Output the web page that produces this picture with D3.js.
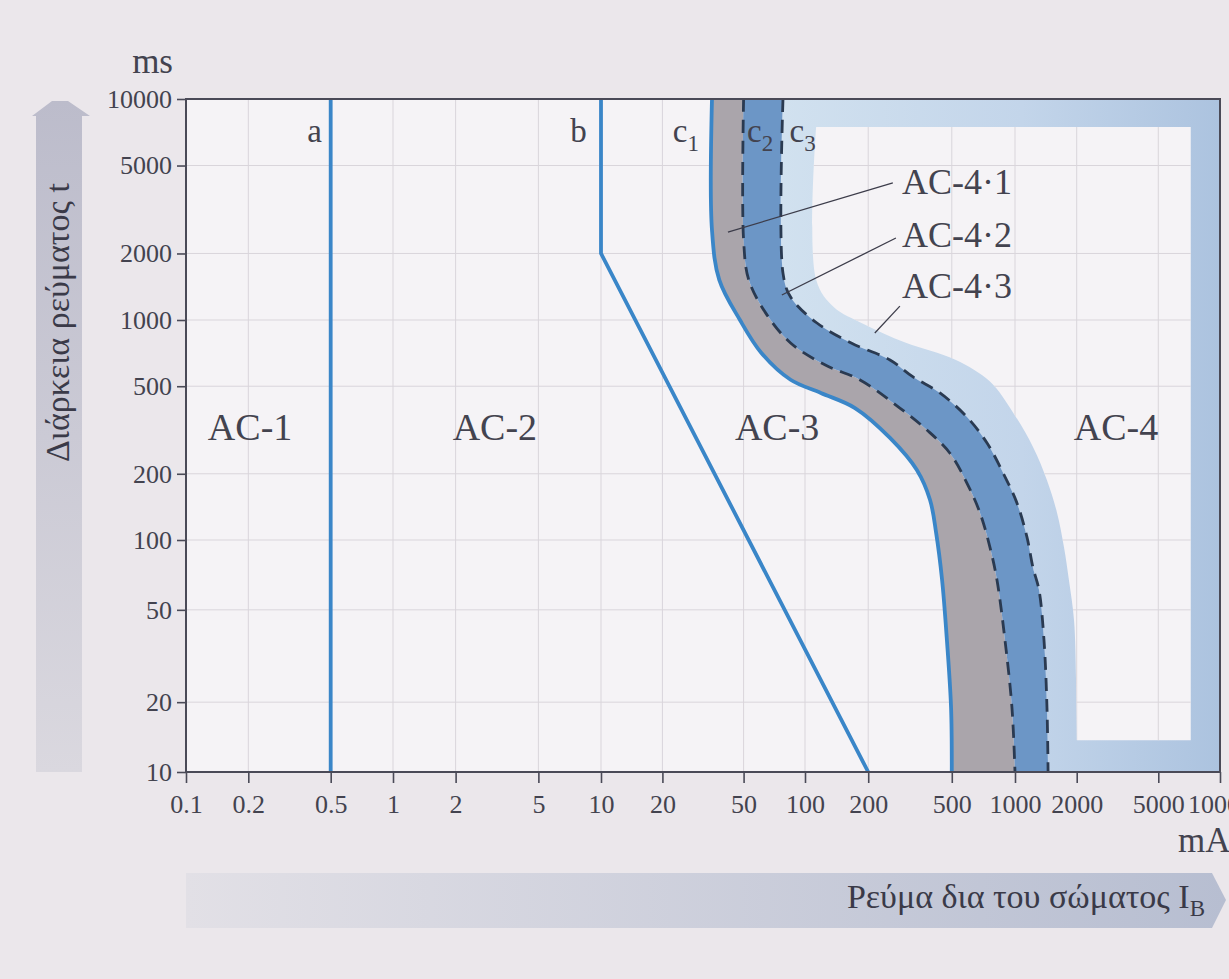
<!DOCTYPE html>
<html>
<head>
<meta charset="utf-8">
<script src="https://cdn.jsdelivr.net/npm/d3@7"></script>
<style>
  html, body { margin: 0; padding: 0; background: #ebe7eb; }
  svg { display: block; }
  svg text { font-family: "Liberation Serif", "Times New Roman", "DejaVu Serif", serif; }
</style>
</head>
<body>
<svg id="chart" width="1229" height="979"></svg>
<script>
// ---- axis ticks -------------------------------------------------------
const currentTicks = [0.1, 0.2, 0.5, 1, 2, 5, 10, 20, 50, 100, 200, 500, 1000, 2000, 5000, 10000];
const currentTickLabels = ["0.1", "0.2", "0.5", "1", "2", "5", "10", "20", "50", "100", "200", "500", "1000", "2000", "5000", "10000"];
const durationTicks = [10, 20, 50, 100, 200, 500, 1000, 2000, 5000, 10000];
const durationTickLabels = ["10", "20", "50", "100", "200", "500", "1000", "2000", "5000", "10000"];

// ---- boundary curves, [current mA, duration ms] ------------------------
const curveA = [[0.5, 10], [0.5, 10000]];
const curveB = [[10, 10000], [10, 2000], [200, 10]];
const curveC1 = [[35, 10000], [35, 2550], [38, 1520], [48, 1000], [61, 710], [85, 535], [119, 466],
  [173, 398], [254, 291], [341, 208], [394, 152], [421, 108], [449, 68], [474, 37], [496, 19], [500, 10]];
const curveC2 = [[50, 10000], [50, 2300], [53, 1520], [64, 1080], [85, 786], [125, 624], [183, 534],
  [283, 398], [381, 316], [490, 248], [591, 181], [681, 133], [760, 93], [821, 67], [896, 37], [967, 19], [1000, 10]];
const curveC3 = [[78, 10000], [78, 1630], [85, 1270], [114, 969], [166, 786], [254, 658], [327, 551],
  [439, 466], [591, 362], [736, 276], [877, 202], [1023, 147], [1144, 103], [1224, 76], [1309, 61],
  [1385, 37], [1432, 19], [1450, 10]];

// outer edge of the AC-4.3 band and the inner edge of the AC-4 frame
const band43Edge = [[113, 7470], [113, 1520], [137, 1145], [190, 960], [300, 790], [520, 660], [760, 525],
  [978, 380], [1224, 265], [1432, 187], [1603, 133], [1734, 93], [1833, 67], [1941, 45], [1985, 25], [2005, 13.7]];
const frameInnerRight = [7200];
const frameInnerBottom = [13.7];
const frameInnerTop = [7470];

// ---- labels -------------------------------------------------------------
const zoneNames = ["AC-1", "AC-2", "AC-3", "AC-4"];
const zoneAt = [[0.204, 285], [3.09, 285], [73, 285], [3110, 285]];
const curveNames = ["a", "b", "c", "c", "c"];
const curveSubs = ["", "", "1", "2", "3"];
const curveNameAt = [[0.418, 6400], [7.8, 6400], [22.5, 6400], [52, 6400], [84, 6400]];
const subZoneNames = ["AC-4·1", "AC-4·2", "AC-4·3"];
const subZoneAt = [[290, 3700], [290, 2150], [290, 1255]];
const leaderFrom = [[262, 4170], [271, 2350], [283, 1156]];
const leaderTo = [[41.9, 2500], [77, 1297], [215, 873]];

// ---- layout -------------------------------------------------------------
const W = 1229, H = 979;
const plot = { left: 186, right: 1220, top: 99, bottom: 772 };
const ink = "#43434f";
const serif = "'Liberation Serif', 'Times New Roman', 'DejaVu Serif', serif";

const x = d3.scaleLog()
  .domain([0.1, 1, 10, 100, 1000, 10000])
  .range([186, 393, 601, 805, 1015, 1220]);
const y = d3.scaleLog()
  .domain([10, 100, 1000, 10000])
  .range([772, 540, 320, 99]);

const svg = d3.select("#chart").attr("font-family", serif);
const defs = svg.append("defs");

const g1 = defs.append("linearGradient").attr("id", "lightBand")
  .attr("gradientUnits", "userSpaceOnUse").attr("x1", 780).attr("x2", 1220).attr("y1", 0).attr("y2", 0);
g1.append("stop").attr("offset", 0).attr("stop-color", "#d1e1ef");
g1.append("stop").attr("offset", 0.55).attr("stop-color", "#c3d5ea");
g1.append("stop").attr("offset", 1).attr("stop-color", "#acc3df");

const g2 = defs.append("linearGradient").attr("id", "yTitleBand")
  .attr("gradientUnits", "userSpaceOnUse").attr("x1", 0).attr("x2", 0).attr("y1", 100).attr("y2", 772);
g2.append("stop").attr("offset", 0).attr("stop-color", "#bcbccb");
g2.append("stop").attr("offset", 1).attr("stop-color", "#dad8df");

const g3 = defs.append("linearGradient").attr("id", "xTitleBand")
  .attr("gradientUnits", "userSpaceOnUse").attr("x1", 186).attr("x2", 1226).attr("y1", 0).attr("y2", 0);
g3.append("stop").attr("offset", 0).attr("stop-color", "#e2e0e6");
g3.append("stop").attr("offset", 1).attr("stop-color", "#b7bed1");

// page
svg.append("rect").attr("width", W).attr("height", H).attr("fill", "#ebe7eb");

// axis title arrows
svg.append("path")
  .attr("d", "M36,772 L36,116 L32,116 L52,101 L68,101 L90,116 L82,116 L82,772 Z")
  .attr("fill", "url(#yTitleBand)");
svg.append("path")
  .attr("d", "M186,873 L1212,873 L1226,900 L1212,928 L186,928 Z")
  .attr("fill", "url(#xTitleBand)");

// curve helpers
const line = d3.line().x(d => x(d[0])).y(d => y(d[1])).curve(d3.curveCatmullRom.alpha(0.5));
const straight = d3.line().x(d => x(d[0])).y(d => y(d[1]));
const between = (a, b) => line(a) + "L" + line(b.slice().reverse()).slice(1) + "Z";

// plot background
svg.append("rect")
  .attr("x", plot.left).attr("y", plot.top)
  .attr("width", plot.right - plot.left).attr("height", plot.bottom - plot.top)
  .attr("fill", "#f5f3f6");

// AC-4 zone: light band and frame
svg.append("path")
  .attr("d", line(curveC3) + `L${x(10000)},${y(10)}L${x(10000)},${y(10000)}Z`)
  .attr("fill", "url(#lightBand)");
const innerPath = line(band43Edge)
  + `L${x(frameInnerRight[0])},${y(frameInnerBottom[0])}L${x(frameInnerRight[0])},${y(frameInnerTop[0])}Z`;
svg.append("path").attr("d", innerPath).attr("fill", "#f5f3f6");

// grid, visible on the white parts only
const clip = defs.append("clipPath").attr("id", "gridClip");
clip.append("path").attr("d", line(curveC3) + `L${x(0.1)},${y(10)}L${x(0.1)},${y(10000)}Z`);
clip.append("path").attr("d", innerPath);
const grid = svg.append("g").attr("clip-path", "url(#gridClip)")
  .attr("stroke", "#d9d5db").attr("stroke-width", 1);
grid.selectAll("line.v").data(currentTicks.slice(1, -1)).join("line")
  .attr("x1", d => x(d)).attr("x2", d => x(d)).attr("y1", plot.top).attr("y2", plot.bottom);
grid.selectAll("line.h").data(durationTicks.slice(1, -1)).join("line")
  .attr("y1", d => y(d)).attr("y2", d => y(d)).attr("x1", plot.left).attr("x2", plot.right);

// AC-4.1 and AC-4.2 bands
svg.append("path").attr("d", between(curveC1, curveC2)).attr("fill", "#aaa5ab");
svg.append("path").attr("d", between(curveC2, curveC3)).attr("fill", "#6c96c6");

// boundary lines
const solid = svg.append("g").attr("fill", "none").attr("stroke", "#3a86c8")
  .attr("stroke-width", 3.8).attr("stroke-linejoin", "round");
solid.append("path").attr("d", straight(curveA));
solid.append("path").attr("d", straight(curveB));
solid.append("path").attr("d", line(curveC1));
const dashed = svg.append("g").attr("fill", "none").attr("stroke", "#2a3a51")
  .attr("stroke-width", 2.8).attr("stroke-dasharray", "13,8");
dashed.append("path").attr("d", line(curveC2));
dashed.append("path").attr("d", line(curveC3));

// frame
svg.append("rect")
  .attr("x", plot.left).attr("y", plot.top)
  .attr("width", plot.right - plot.left).attr("height", plot.bottom - plot.top)
  .attr("fill", "none").attr("stroke", "#4a4a57").attr("stroke-width", 2);

// axes
const yAxis = d3.axisLeft(y).tickValues(durationTicks)
  .tickFormat((d, i) => durationTickLabels[i]).tickSize(9).tickSizeOuter(0).tickPadding(5);
const xAxis = d3.axisBottom(x).tickValues(currentTicks)
  .tickFormat((d, i) => currentTickLabels[i]).tickSize(11).tickSizeOuter(0).tickPadding(12);
const ya = svg.append("g").attr("transform", `translate(${plot.left},0)`).call(yAxis);
const xa = svg.append("g").attr("transform", `translate(0,${plot.bottom})`).call(xAxis);
[ya, xa].forEach(a => {
  a.attr("font-family", serif).attr("font-size", 26);
  a.select(".domain").remove();
  a.selectAll(".tick line").attr("stroke", "#4a4a57").attr("stroke-width", 1.6);
  a.selectAll(".tick text").attr("fill", ink);
});

// unit labels and axis titles
svg.append("text").attr("x", 173).attr("y", 73).attr("text-anchor", "end")
  .attr("fill", ink).attr("font-size", 35).text("ms");
svg.append("text").attr("x", 1178).attr("y", 852)
  .attr("fill", ink).attr("font-size", 35).text("mA");
svg.append("text").attr("transform", "translate(69,462) rotate(-90)")
  .attr("fill", "#3a3a48").attr("font-size", 34).text("Διάρκεια ρεύματος t");
const xt = svg.append("text").attr("x", 1205).attr("y", 908).attr("text-anchor", "end")
  .attr("fill", "#3a3a48").attr("font-size", 34);
xt.append("tspan").text("Ρεύμα δια του σώματος I");
xt.append("tspan").attr("dy", 8).attr("font-size", 23).text("B");

// zone labels
svg.append("g").selectAll("text").data(zoneNames).join("text")
  .attr("x", (d, i) => x(zoneAt[i][0])).attr("y", (d, i) => y(zoneAt[i][1]))
  .attr("text-anchor", "middle").attr("fill", ink).attr("font-size", 38).text(d => d);

// curve names
const cn = svg.append("g").selectAll("text").data(curveNames).join("text")
  .attr("x", (d, i) => x(curveNameAt[i][0])).attr("y", (d, i) => y(curveNameAt[i][1]))
  .attr("text-anchor", (d, i) => curveSubs[i] ? "start" : "middle")
  .attr("fill", ink).attr("font-size", 33);
cn.append("tspan").text(d => d);
cn.append("tspan").attr("dy", 9).attr("font-size", 23).text((d, i) => curveSubs[i]);

// AC-4 sub-zone labels with leaders
svg.append("g").selectAll("line").data(leaderFrom).join("line")
  .attr("x1", d => x(d[0])).attr("y1", d => y(d[1]))
  .attr("x2", (d, i) => x(leaderTo[i][0])).attr("y2", (d, i) => y(leaderTo[i][1]))
  .attr("stroke", "#3c3c4a").attr("stroke-width", 1.3);
svg.append("g").selectAll("text").data(subZoneNames).join("text")
  .attr("x", (d, i) => x(subZoneAt[i][0])).attr("y", (d, i) => y(subZoneAt[i][1]))
  .attr("fill", ink).attr("font-size", 36).text(d => d);
</script>
</body>
</html>
